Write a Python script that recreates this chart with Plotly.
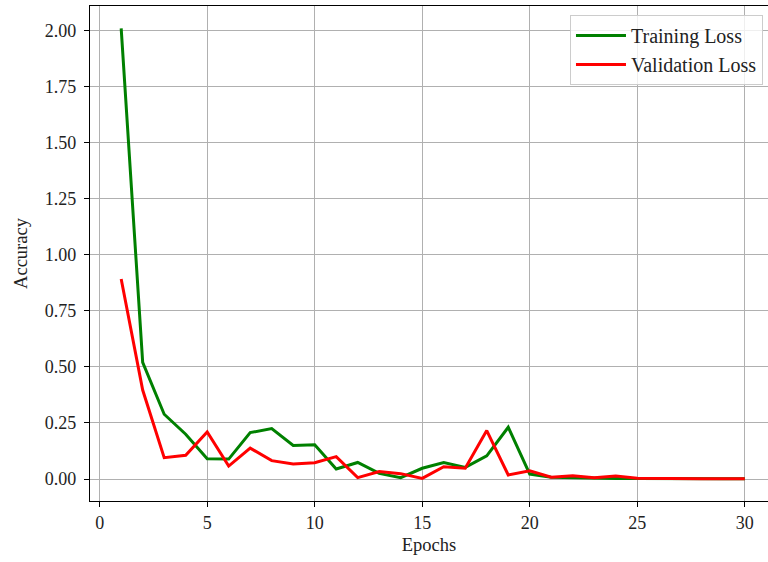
import plotly.graph_objects as go

epochs = list(range(1, 31))
training_loss = [2.01, 0.52, 0.289, 0.20, 0.09, 0.089, 0.207, 0.225, 0.150, 0.153,
                 0.045, 0.074, 0.025, 0.006, 0.048, 0.074, 0.052, 0.103, 0.231, 0.022,
                 0.008, 0.005, 0.003, 0.002, 0.002, 0.001, 0.001, 0.001, 0.001, 0.001]
validation_loss = [0.892, 0.397, 0.095, 0.106, 0.210, 0.058, 0.138, 0.082, 0.067, 0.073,
                   0.100, 0.006, 0.033, 0.024, 0.003, 0.055, 0.048, 0.216, 0.018, 0.037,
                   0.008, 0.015, 0.006, 0.013, 0.004, 0.002, 0.001, 0.001, 0.001, 0.001]

font_family = "Liberation Serif, Times New Roman, serif"

fig = go.Figure()
fig.add_trace(go.Scatter(x=epochs, y=training_loss, mode="lines", name="Training Loss",
                         line=dict(color="#008000", width=3)))
fig.add_trace(go.Scatter(x=epochs, y=validation_loss, mode="lines", name="Validation Loss",
                         line=dict(color="#ff0000", width=3)))

fig.update_layout(
    width=768, height=562,
    margin=dict(l=90, r=0, t=6, b=61),
    paper_bgcolor="white", plot_bgcolor="white",
    font=dict(family=font_family, size=18, color="#222222"),
    showlegend=True,
    legend=dict(x=0.9926, xanchor="right", y=0.982, yanchor="top",
                bgcolor="rgba(255,255,255,0.8)", bordercolor="#cccccc", borderwidth=1,
                font=dict(family=font_family, size=20, color="#222222"),
                itemwidth=50, tracegroupgap=2),
)
fig.update_xaxes(
    range=[-0.45, 31.08], tickmode="array", tickvals=[0, 5, 10, 15, 20, 25, 30],
    showgrid=True, gridcolor="#b0b0b0", gridwidth=1, zeroline=False,
    showline=True, linecolor="black", linewidth=1.2, mirror=True,
    ticks="outside", ticklen=5, tickwidth=1, tickcolor="black",
    title=dict(text="Epochs", standoff=6, font=dict(size=18.5)),
)
fig.update_yaxes(
    range=[-0.098, 2.11], tick0=0, dtick=0.25, tickformat=".2f",
    showgrid=True, gridcolor="#b0b0b0", gridwidth=1, zeroline=False,
    showline=True, linecolor="black", linewidth=1.2, mirror=False,
    ticks="outside", ticklen=5, tickwidth=1, tickcolor="black",
    ticklabelstandoff=4,
    title=dict(text="Accuracy", standoff=12, font=dict(size=18.5)),
)

fig.write_html("out.html")
